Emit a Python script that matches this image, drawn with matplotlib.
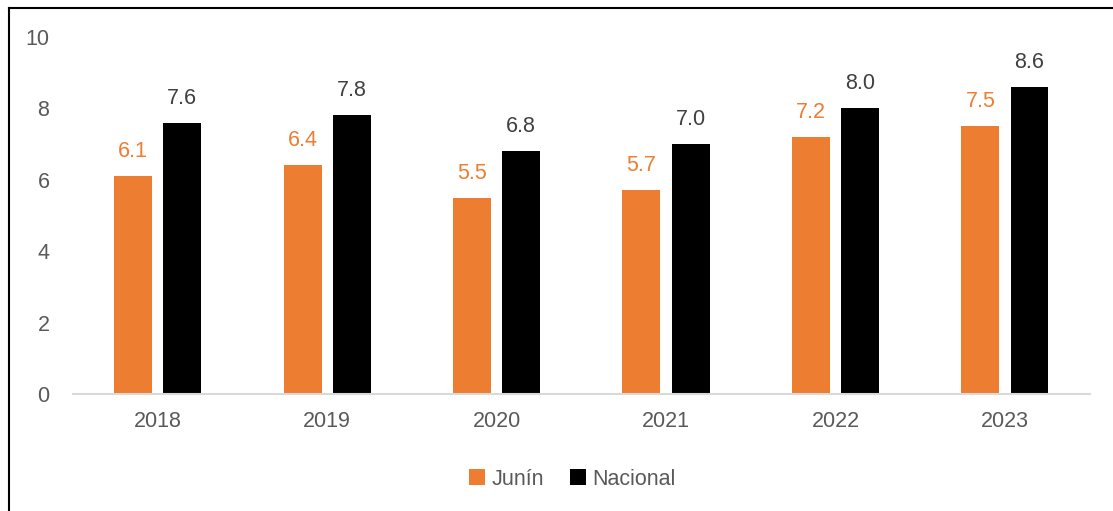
import numpy as np
import matplotlib.pyplot as plt
from matplotlib.lines import Line2D

plt.rcParams['font.family'] = ['Liberation Sans', 'DejaVu Sans']

# Data
years = ['2018', '2019', '2020', '2021', '2022', '2023']
junin = [6.1, 6.4, 5.5, 5.7, 7.2, 7.5]
nacional = [7.6, 7.8, 6.8, 7.0, 8.0, 8.6]

orange = '#ED7D31'
grey_txt = '#595959'

x = np.arange(len(years))
w = 0.224
off = 0.145

fig = plt.figure(figsize=(11.13, 5.11), dpi=100)
ax = fig.add_axes([0.0656, 0.229, 0.9134, 0.699])

b1 = ax.bar(x - off, junin, width=w, color=orange, label='Junín')
b2 = ax.bar(x + off, nacional, width=w, color='black', label='Nacional')

# value labels
for i in range(len(years)):
    ax.annotate(f'{junin[i]:.1f}', (x[i] - off, junin[i]), xytext=(0, 10),
                textcoords='offset points', ha='center', va='bottom',
                fontsize=15.5, color=orange)
    ax.annotate(f'{nacional[i]:.1f}', (x[i] + off, nacional[i]), xytext=(0, 10),
                textcoords='offset points', ha='center', va='bottom',
                fontsize=15.5, color='#404040')

ax.set_xlim(-0.5, len(years) - 0.5)
ax.set_ylim(0, 10)
ax.set_yticks(np.arange(0, 11, 2))
ax.set_xticks(x)
ax.set_xticklabels(years)
ax.tick_params(axis='both', length=0, labelsize=15.5, colors=grey_txt)
ax.tick_params(axis='y', pad=17)
ax.tick_params(axis='x', pad=12)
for s in ['top', 'right', 'left']:
    ax.spines[s].set_visible(False)
ax.spines['bottom'].set_color('#d9d9d9')
ax.spines['bottom'].set_linewidth(1.5)

fig.legend(handles=[b1, b2], loc='center', bbox_to_anchor=(0.514, 0.062),
           ncol=2, frameon=False, fontsize=15.5, handlelength=0.75,
           handleheight=0.75, handletextpad=0.3, columnspacing=1.2,
           labelcolor=grey_txt)

# frame lines of the original screenshot (top and left only)
fig.add_artist(Line2D([0.008, 1.0], [0.984, 0.984], color='black', lw=1.5,
                      transform=fig.transFigure))
fig.add_artist(Line2D([0.008, 0.008], [0.0, 0.984], color='black', lw=1.5,
                      transform=fig.transFigure))

plt.savefig('out.png', dpi=100)
